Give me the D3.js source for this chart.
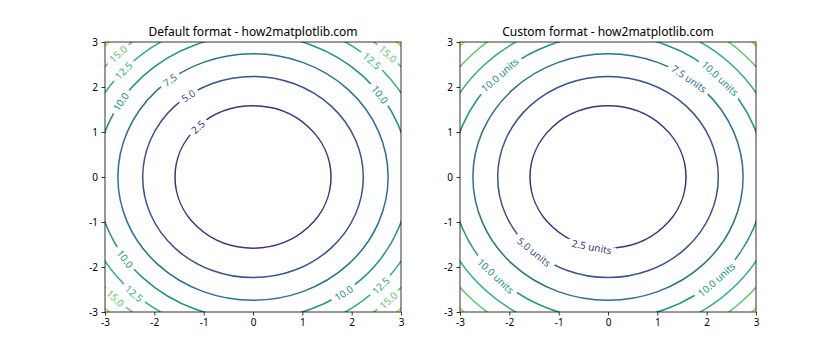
<!DOCTYPE html>
<html>
<head>
<meta charset="utf-8">
<script src="https://cdn.jsdelivr.net/npm/d3@7"></script>
<style>
  body { margin: 0; background: #fff; }
  text { font-family: "Noto Sans", "Open Sans", sans-serif; }
</style>
</head>
<body>
<div id="chart"></div>
<script>
// contour levels of z = x^2 + y^2, colours run over 0..20 like matplotlib
const levels = [2.5, 5.0, 7.5, 10.0, 12.5, 15.0, 17.5];
const colorDomain = [0, 20];
const ticks = [-3, -2, -1, 0, 1, 2, 3];
const titles = ["Default format - how2matplotlib.com", "Custom format - how2matplotlib.com"];
// [level, angle in degrees around the origin] for each inline label
const labelsDefault = [
  [2.5, 135], [5.0, 126], [7.5, 128], [10.0, 148], [12.5, 138], [15.0, 135],
  [15.0, 45], [12.5, 47], [10.0, 35.5],
  [10.0, 215], [12.5, 227], [15.0, 224],
  [10.0, 305.5], [12.5, 317], [15.0, 315]
];
const labelsCustom = [
  [2.5, 258], [5.0, 228], [10.0, 224], [10.0, 134],
  [7.5, 53], [10.0, 44], [10.0, 314]
];

const width = 840, height = 350;
const svg = d3.select("#chart").append("svg")
  .attr("width", width)
  .attr("height", height);

const color = d3.scaleSequential(d3.interpolateViridis).domain(colorDomain);
const tickFmt = (d) => String(d); // plain hyphen minus, as in the picture

const panels = [
  { left: 105, fmt: (v) => v.toFixed(1), labels: labelsDefault },
  { left: 460, fmt: (v) => v.toFixed(1) + " units", labels: labelsCustom }
];

panels.forEach((p, i) => {
  const w = 296, h = 270, top = 42;
  const x = d3.scaleLinear().domain([-3, 3]).range([p.left, p.left + w]);
  const y = d3.scaleLinear().domain([-3, 3]).range([top + h, top]);
  const g = svg.append("g");

  // clip to the axes box
  g.append("clipPath").attr("id", "clip" + i)
    .append("rect").attr("x", p.left).attr("y", top).attr("width", w).attr("height", h);

  const mask = g.append("mask").attr("id", "mask" + i)
    .attr("maskUnits", "userSpaceOnUse")
    .attr("x", 0).attr("y", 0).attr("width", width).attr("height", height);
  mask.append("rect").attr("width", width).attr("height", height).attr("fill", "white");

  // contour lines
  g.append("g")
    .attr("clip-path", `url(#clip${i})`)
    .append("g")
    .attr("mask", `url(#mask${i})`)
    .selectAll("ellipse")
    .data(levels)
    .enter()
    .append("ellipse")
    .attr("cx", x(0))
    .attr("cy", y(0))
    .attr("rx", (d) => x(Math.sqrt(d)) - x(0))
    .attr("ry", (d) => y(0) - y(Math.sqrt(d)))
    .attr("fill", "none")
    .attr("stroke", (d) => color(d))
    .attr("stroke-width", 1.5);

  // inline labels
  const labels = g.append("g")
    .selectAll("text")
    .data(p.labels)
    .enter()
    .append("text")
    .attr("text-anchor", "middle")
    .attr("dominant-baseline", "central")
    .attr("font-size", 10)
    .attr("fill", (d) => color(d[0]))
    .attr("transform", (d) => {
      const r = Math.sqrt(d[0]);
      const t = (d[1] * Math.PI) / 180;
      const px = x(r * Math.cos(t));
      const py = y(r * Math.sin(t));
      const rx = x(r) - x(0), ry = y(0) - y(r);
      let a = (Math.atan2(-Math.cos(t) * ry, -Math.sin(t) * rx) * 180) / Math.PI;
      if (a > 90) a -= 180;
      if (a < -90) a += 180;
      d.pos = [px, py, a];
      return `translate(${px},${py}) rotate(${a})`;
    })
    .text((d) => p.fmt(d[0]));

  // cut gaps in the lines under each label
  labels.each(function (d) {
    const len = this.getComputedTextLength() + 8;
    mask.append("rect")
      .attr("x", -len / 2)
      .attr("y", -3.5)
      .attr("width", len)
      .attr("height", 7)
      .attr("fill", "black")
      .attr("transform", `translate(${d.pos[0]},${d.pos[1]}) rotate(${d.pos[2]})`);
  });

  // axes
  const xAxis = g.append("g")
    .attr("transform", `translate(0,${top + h})`)
    .call(d3.axisBottom(x).tickValues(ticks).tickSize(3.5).tickPadding(3.5).tickFormat(tickFmt));
  const yAxis = g.append("g")
    .attr("transform", `translate(${p.left},0)`)
    .call(d3.axisLeft(y).tickValues(ticks).tickSize(3.5).tickPadding(3.5).tickFormat(tickFmt));
  [xAxis, yAxis].forEach((a) => {
    a.select(".domain").remove();
    a.selectAll("text").attr("font-size", 10).attr("fill", "#000")
      .style("font-family", '"Noto Sans", sans-serif');
    a.selectAll("line").attr("stroke", "#000").attr("stroke-width", 0.8);
  });

  g.append("rect")
    .attr("x", p.left).attr("y", top).attr("width", w).attr("height", h)
    .attr("fill", "none").attr("stroke", "#000").attr("stroke-width", 0.8);

  g.append("text")
    .attr("x", p.left + w / 2)
    .attr("y", top - 6)
    .attr("text-anchor", "middle")
    .attr("font-size", 12)
    .attr("fill", "#000")
    .text(titles[i]);
});
</script>
</body>
</html>
